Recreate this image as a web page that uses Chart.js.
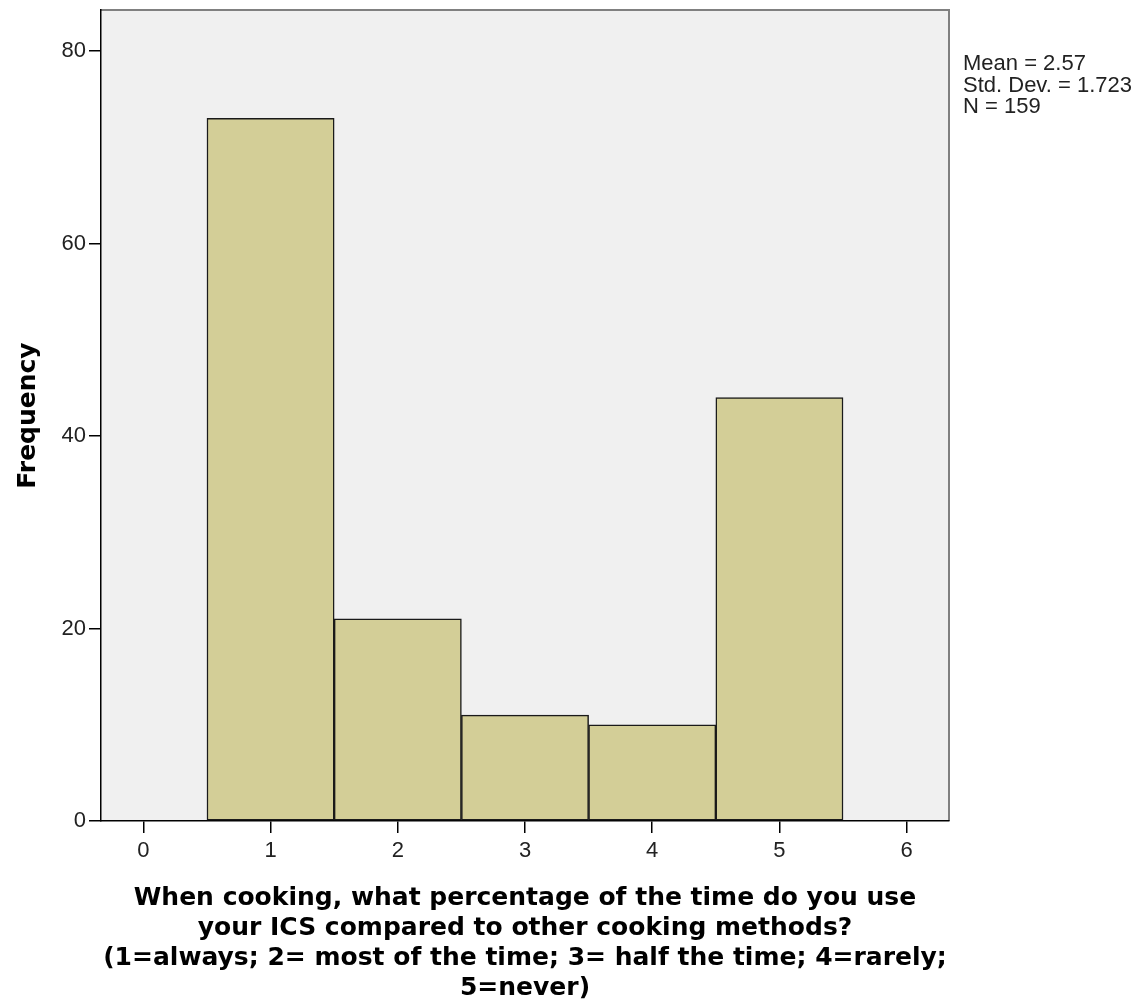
<!DOCTYPE html>
<html>
<head>
<meta charset="utf-8">
<title>ICS usage histogram</title>
<script src="https://cdn.jsdelivr.net/npm/chart.js@4.4.1/dist/chart.umd.min.js"></script>
<style>
    html, body { margin: 0; padding: 0; background: #ffffff; }
    #wrap { width: 1146px; height: 1004px; position: relative; }
</style>
</head>
<body>
<div id="wrap"><canvas id="histChart"></canvas></div>
<script>
// ---- Data ------------------------------------------------------------------
const binCenters = [1, 2, 3, 4, 5];
const frequencies = [73, 21, 11, 10, 44];
const xTicks = [0, 1, 2, 3, 4, 5, 6];
const yTicks = [0, 20, 40, 60, 80];
const statsLines = ["Mean = 2.57", "Std. Dev. = 1.723", "N = 159"];
const xTitle = [
    "When cooking, what percentage of the time do you use",
    "your ICS compared to other cooking methods?",
    "(1=always; 2= most of the time; 3= half the time; 4=rarely;",
    "5=never)",
];
const yTitle = "Frequency";

// ---- Plot frame + stats box ------------------------------------------------
const framePlugin = {
    id: "frame",
    beforeDraw(chart) {
        const { ctx, chartArea: a } = chart;
        ctx.save();
        ctx.fillStyle = "#f0f0f0";
        ctx.fillRect(a.left, a.top, a.right - a.left, a.bottom - a.top);
        ctx.strokeStyle = "#808080";
        ctx.lineWidth = 2;
        ctx.beginPath();
        ctx.moveTo(a.left, a.top);
        ctx.lineTo(a.right, a.top);
        ctx.lineTo(a.right, a.bottom);
        ctx.stroke();
        ctx.restore();
    },
    afterDraw(chart) {
        const { ctx } = chart;
        ctx.save();
        ctx.fillStyle = "#222";
        ctx.font = "22px 'Liberation Sans', Arial, sans-serif";
        ctx.textBaseline = "top";
        ctx.textAlign = "left";
        statsLines.forEach((line, i) => ctx.fillText(line, 963, 53 + i * 21.5));
        ctx.restore();
    },
};

const tickFont = { family: "'Liberation Sans', Arial, sans-serif", size: 22 };
const titleFont = { family: "'DejaVu Sans', Verdana, sans-serif", size: 25, weight: "bold", lineHeight: 1.2 };

new Chart(document.getElementById("histChart"), {
    type: "bar",
    data: {
        datasets: [
            {
                data: binCenters.map((x, i) => ({ x, y: frequencies[i] })),
                backgroundColor: "#d3ce97",
                borderColor: "#1a1a1a",
                borderWidth: 1.5,
                borderSkipped: false,
                barPercentage: 1,
                categoryPercentage: 1,
            },
        ],
    },
    options: {
        responsive: true,
        maintainAspectRatio: false,
        animation: false,
        layout: { padding: { top: 10, right: 197, bottom: 1, left: 0 } },
        plugins: { legend: { display: false }, tooltip: { enabled: false } },
        scales: {
            x: {
                type: "linear",
                offset: false,
                min: -0.333,
                max: 6.333,
                afterBuildTicks: (s) => { s.ticks = xTicks.map((v) => ({ value: v })); },
                afterFit: (s) => { s.height = 182; s.paddingLeft = 0; s.paddingRight = 0; },
                grid: { offset: false, drawOnChartArea: false, drawTicks: true, tickLength: 12, color: "#000", lineWidth: 1.5 },
                border: { display: true, color: "#000", width: 1.5 },
                ticks: { color: "#222", font: tickFont, padding: 5, maxRotation: 0, autoSkip: false },
                title: { display: true, text: xTitle, color: "#000", font: titleFont, padding: { top: 0, bottom: 0 } },
            },
            y: {
                min: 0,
                max: 84.26,
                afterBuildTicks: (s) => { s.ticks = yTicks.map((v) => ({ value: v })); },
                afterFit: (s) => { s.width = 101; s.paddingTop = 0; s.paddingBottom = 0; },
                grid: { drawOnChartArea: false, drawTicks: true, tickLength: 12, color: "#000", lineWidth: 1.5 },
                border: { display: true, color: "#000", width: 1.5 },
                ticks: { color: "#222", font: tickFont, padding: 3 },
                title: { display: true, text: yTitle, color: "#000", font: titleFont, padding: { top: 13, bottom: 0 } },
            },
        },
    },
    plugins: [framePlugin],
});
</script>
</body>
</html>
